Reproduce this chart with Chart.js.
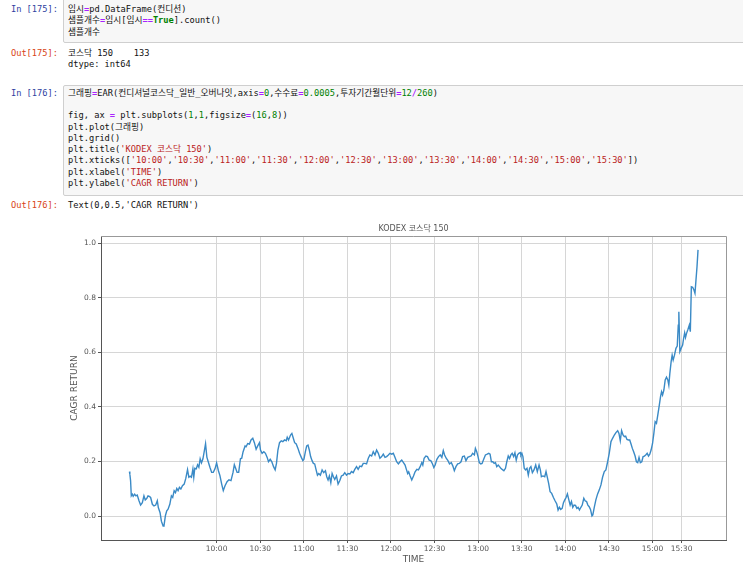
<!DOCTYPE html>
<html>
<head>
<meta charset="utf-8">
<script src="https://cdn.jsdelivr.net/npm/chart.js@4"></script>
<style>
  html, body { margin: 0; padding: 0; background: #fff; }
  body { width: 743px; height: 567px; position: relative; overflow: hidden; }
  .mono { font: 8.7px/11.3px "DejaVu Sans Mono", "Noto Sans CJK KR", monospace; white-space: pre; color: #111; }
  .prompt { position: absolute; left: 0; width: 58px; text-align: right; }
  .in { color: #303F9F; }
  .out { color: #D84315; }
  .box { position: absolute; left: 63px; width: 700px; background: #f7f7f7; border: 1px solid #cfcfcf; border-radius: 2px; }
  .txt { position: absolute; left: 68px; }
  .o { color: #AA22FF; font-weight: bold; }
  .n { color: #008000; }
  .kw { color: #008000; font-weight: bold; }
  .s { color: #BA2121; }
  #chart { position: absolute; left: 0; top: 212px; }
</style>
</head>
<body>
<div class="box" style="top:-3px;height:44px"></div>
<div class="mono prompt in" style="top:4px">In [175]:</div>
<div class="mono txt" style="top:4px">임시<span class="o">=</span>pd.DataFrame(컨디션)
샘플개수<span class="o">=</span>임시[임시<span class="o">==</span><span class="kw">True</span>].count()
샘플개수</div>

<div class="mono prompt out" style="top:47.6px">Out[175]:</div>
<div class="mono txt" style="top:47.6px">코스닥 150    133
dtype: int64</div>

<div class="box" style="top:85px;height:109px"></div>
<div class="mono prompt in" style="top:87.7px">In [176]:</div>
<div class="mono txt" style="top:87.7px">그래핑<span class="o">=</span>EAR(컨디셔널코스닥_일반_오버나잇,axis<span class="o">=</span><span class="n">0</span>,수수료<span class="o">=</span><span class="n">0.0005</span>,투자기간월단위<span class="o">=</span><span class="n">12</span><span class="o">/</span><span class="n">260</span>)

fig, ax <span class="o">=</span> plt.subplots(<span class="n">1</span>,<span class="n">1</span>,figsize<span class="o">=</span>(<span class="n">16</span>,<span class="n">8</span>))
plt.plot(그래핑)
plt.grid()
plt.title(<span class="s">'KODEX 코스닥 150'</span>)
plt.xticks([<span class="s">'10:00'</span>,<span class="s">'10:30'</span>,<span class="s">'11:00'</span>,<span class="s">'11:30'</span>,<span class="s">'12:00'</span>,<span class="s">'12:30'</span>,<span class="s">'13:00'</span>,<span class="s">'13:30'</span>,<span class="s">'14:00'</span>,<span class="s">'14:30'</span>,<span class="s">'15:00'</span>,<span class="s">'15:30'</span>])
plt.xlabel(<span class="s">'TIME'</span>)
plt.ylabel(<span class="s">'CAGR RETURN'</span>)</div>

<div class="mono prompt out" style="top:200.3px">Out[176]:</div>
<div class="mono txt" style="top:200.3px">Text(0,0.5,'CAGR RETURN')</div>

<canvas id="chart" width="743" height="355"></canvas>

<script>
// ---------- data (minutes since 09:00 / CAGR return) ----------
const minutes = [
  0, 0.3, 0.8, 1.3, 2.0, 2.6, 3.6, 4.5, 5.4, 6.6,
  7.7, 8.9, 10.0, 10.9, 11.9, 12.8, 13.7, 14.6, 15.8, 16.9,
  18.1, 19.2, 19.9, 21.1, 22.0, 23.2, 23.8, 24.8, 25.7, 26.6,
  27.8, 28.9, 29.8, 30.8, 31.7, 32.6, 33.5, 34.4, 35.4, 36.5,
  37.7, 38.8, 40.0, 40.9, 41.8, 42.7, 43.7, 44.3, 45.0, 46.0,
  46.9, 47.8, 48.7, 49.6, 50.6, 51.5, 52.4, 53.3, 54.3, 55.4,
  56.6, 57.7, 58.9, 60.0, 61.2, 62.3, 63.5, 64.6, 65.8, 67.2,
  68.5, 69.9, 71.3, 72.2, 73.1, 74.1, 75.2, 76.4, 77.3, 78.2,
  79.6,
  80.3, 81.4, 82.6, 83.7, 84.9, 86.0, 87.2, 88.3, 89.5, 90.2,
  91.3, 92.5, 93.6, 94.8, 95.7, 96.9, 98.0, 99.2, 100.3, 101.2,
  102.2, 103.3, 104.5, 105.6, 106.8, 107.9, 108.6, 109.5, 110.9, 111.8,
  112.8, 113.7, 114.8, 116.0, 117.1, 118.3, 119.4, 120.1, 121.1, 122.0,
  122.9, 123.8, 124.7, 125.7, 126.6, 127.5, 128.4, 129.4, 130.3, 131.4,
  132.6, 133.7, 134.9, 135.8, 136.7, 137.6, 138.6, 139.5, 140.4, 141.3,
  142.5, 143.6, 144.8, 145.9, 147.1, 148.2, 149.4, 150.5, 151.7, 152.8,
  154.0, 155.1, 156.3, 157.4, 158.6, 159.8, 160.9,
  162.1, 163.2, 164.4, 165.5, 166.7, 167.8, 169.0, 170.1, 171.3, 172.4,
  173.6, 174.7, 175.9, 177.0, 178.2, 179.3, 180.5, 181.6, 182.8, 183.9,
  185.1, 186.2, 187.4, 188.6, 189.7, 190.6, 191.5, 192.2, 193.2, 194.3,
  195.5, 196.6, 197.8, 198.9, 200.1, 201.2, 201.9, 202.8, 204.0, 205.1,
  206.3, 207.4, 208.6, 209.5, 210.4, 211.6, 212.7, 213.9, 215.0, 216.0,
  216.9, 218.0, 219.2, 220.3, 221.5, 222.6, 223.6, 224.7, 225.9, 227.0,
  228.2, 229.3, 230.5, 231.6, 232.8, 233.9, 235.1, 236.2, 237.4, 238.1,
  239.0, 239.9, 240.8, 241.8, 242.7, 243.8,
  245.0, 246.2, 247.3, 248.2, 249.1, 250.1, 251.0, 251.9, 252.8, 253.8,
  254.7, 255.6, 256.5, 257.7, 258.8, 259.7, 260.7, 261.6, 262.5, 263.4,
  264.4, 265.3, 266.2, 267.1, 268.0, 269.0, 269.4, 270.1, 270.8, 271.7,
  272.6, 273.6, 274.5, 275.4, 276.3, 277.3, 278.4, 279.6, 280.7, 281.9,
  282.8, 283.5, 284.6, 285.8, 286.7, 287.6, 288.5, 289.5, 290.6, 291.8,
  292.9, 294.1, 295.0, 295.9, 296.8, 297.8, 298.7, 299.6, 300.5, 301.4,
  302.4, 303.3, 304.2, 305.1, 306.0, 307.0, 307.9, 308.8, 309.7, 310.7,
  311.6, 312.7, 313.6, 314.6, 315.5, 316.4, 317.3, 318.3, 318.9, 319.9,
  321.0, 322.2, 323.3,
  324.5, 325.6, 326.8, 327.9, 329.1, 330.2, 331.4, 332.5, 333.7, 334.8,
  336.0, 336.9, 337.8, 338.7, 339.7, 340.6, 341.5, 342.4, 343.4, 344.3,
  345.2, 346.1, 347.0, 348.0, 348.9, 349.8, 350.7, 351.6, 352.6, 353.5,
  354.4, 355.3, 356.3, 357.2, 358.1, 359.0, 360.0, 360.9, 361.8, 362.7,
  363.6, 364.5, 365.5, 366.2, 366.9, 367.8, 368.7, 369.6, 370.5, 371.2,
  371.9, 372.8, 373.5, 374.2, 375.1, 376.1, 377.0, 377.7, 378.1, 378.8,
  379.7, 380.7, 381.4, 382.1, 382.7, 383.4, 384.4, 385.3, 386.0, 386.7,
  387.6, 388.5, 389.2, 389.9, 390.6, 391.3
];

const cagrReturn = [
  0.163, 0.154, 0.13, 0.074, 0.08, 0.072, 0.08, 0.074, 0.077, 0.056,
  0.04, 0.049, 0.074, 0.059, 0.064, 0.074, 0.072, 0.068, 0.043, 0.037,
  0.04, 0.056, 0.031, 0.012, -0.019, -0.037, -0.035, 0.002, 0.019, 0.025,
  0.043, 0.074, 0.068, 0.093, 0.086, 0.101, 0.093, 0.105, 0.099, 0.111,
  0.117, 0.138, 0.17, 0.142, 0.146, 0.142, 0.173, 0.142, 0.175, 0.173,
  0.188, 0.179, 0.21, 0.195, 0.21, 0.237, 0.265, 0.216, 0.198, 0.179,
  0.16, 0.16, 0.173, 0.195, 0.167, 0.148, 0.117, 0.093, 0.111, 0.126,
  0.133, 0.13, 0.16, 0.188, 0.175, 0.16, 0.16, 0.21, 0.212, 0.235,
  0.257,
  0.254, 0.266, 0.264, 0.279, 0.285, 0.269, 0.245, 0.257, 0.269, 0.242,
  0.23, 0.236, 0.23, 0.215, 0.199, 0.208, 0.199, 0.181, 0.169, 0.193,
  0.242, 0.269, 0.276, 0.273, 0.279, 0.276, 0.289, 0.279, 0.297, 0.303,
  0.285, 0.269, 0.264, 0.248, 0.23, 0.215, 0.203, 0.208, 0.236, 0.257,
  0.26, 0.242, 0.218, 0.203, 0.193, 0.191, 0.171, 0.15, 0.156, 0.15,
  0.169, 0.159, 0.166, 0.144, 0.132, 0.147, 0.122, 0.156, 0.144, 0.134,
  0.147, 0.117, 0.13, 0.147, 0.15, 0.159, 0.15, 0.156, 0.154, 0.163,
  0.159, 0.171, 0.181, 0.171, 0.183, 0.181, 0.193,
  0.193, 0.191, 0.212, 0.224, 0.22, 0.236, 0.224, 0.242, 0.23, 0.212,
  0.218, 0.227, 0.215, 0.218, 0.224, 0.23, 0.227, 0.23, 0.215, 0.199,
  0.191, 0.199, 0.205, 0.196, 0.187, 0.171, 0.156, 0.162, 0.147, 0.132,
  0.147, 0.162, 0.171, 0.169, 0.181, 0.196, 0.187, 0.212, 0.22, 0.218,
  0.205, 0.203, 0.191, 0.178, 0.187, 0.208, 0.218, 0.224, 0.215, 0.24,
  0.224, 0.212, 0.203, 0.191, 0.196, 0.183, 0.166, 0.181, 0.191, 0.193,
  0.199, 0.218, 0.22, 0.203, 0.215, 0.218, 0.22, 0.23, 0.224, 0.248,
  0.236, 0.218, 0.196, 0.191, 0.193, 0.208,
  0.224, 0.227, 0.23, 0.227, 0.199, 0.199, 0.193, 0.196, 0.181, 0.187,
  0.181, 0.175, 0.171, 0.166, 0.175, 0.199, 0.22, 0.211, 0.224, 0.23,
  0.218, 0.232, 0.205, 0.224, 0.23, 0.233, 0.224, 0.23, 0.218, 0.175,
  0.169, 0.175, 0.15, 0.175, 0.181, 0.159, 0.169, 0.187, 0.163, 0.187,
  0.169, 0.144, 0.147, 0.144, 0.163, 0.142, 0.12, 0.089, 0.083, 0.068,
  0.056, 0.044, 0.022, 0.032, 0.024, 0.028, 0.049, 0.059, 0.068, 0.081,
  0.059, 0.04, 0.053, 0.032, 0.04, 0.039, 0.028, 0.032, 0.022, 0.032,
  0.04, 0.065, 0.056, 0.053, 0.04, 0.034, 0.024, 0.0, 0.004, 0.032,
  0.059, 0.081, 0.095,
  0.114, 0.142, 0.163, 0.169, 0.199, 0.23, 0.273, 0.285, 0.297, 0.306,
  0.313, 0.303, 0.276, 0.313, 0.297, 0.291, 0.293, 0.281, 0.279, 0.279,
  0.264, 0.248, 0.236, 0.22, 0.199, 0.196, 0.215, 0.196, 0.199, 0.218,
  0.22, 0.224, 0.23, 0.22, 0.227, 0.242, 0.266, 0.303, 0.346, 0.34,
  0.37, 0.401, 0.438, 0.456, 0.444, 0.462, 0.499, 0.509, 0.499, 0.48,
  0.523, 0.566, 0.59, 0.572, 0.59, 0.615, 0.623, 0.7, 0.749, 0.603,
  0.615, 0.627, 0.652, 0.672, 0.655, 0.67, 0.685, 0.7, 0.676, 0.841,
  0.839, 0.829, 0.817, 0.866, 0.914, 0.976
];

// x ticks: positions (minute index) and their labels
const xTickPos = [60, 90, 120, 150, 180, 210, 240, 270, 300, 330, 360, 380];
const xTickLabels = ['10:00', '10:30', '11:00', '11:30', '12:00', '12:30',
  '13:00', '13:30', '14:00', '14:30', '15:00', '15:30'];
const yTicks = [0.0, 0.2, 0.4, 0.6, 0.8, 1.0];

// ---------- style ----------
const TEXT = '#555';
const GRID = '#d6d6d6';
const SPINE = '#555';
const tickFont = { family: '"DejaVu Sans", "Noto Sans CJK KR", sans-serif', size: 7.5 };
const labelFont = { family: '"DejaVu Sans", "Noto Sans CJK KR", sans-serif', size: 9 };

// top + right spines (lighter, like the mpl frame)
const frame = {
  id: 'frame',
  afterDraw(chart) {
    const { ctx, chartArea: a } = chart;
    ctx.save();
    ctx.strokeStyle = '#999';
    ctx.lineWidth = 1;
    ctx.beginPath();
    ctx.moveTo(a.left, a.top + 0.5);
    ctx.lineTo(a.right + 0.5, a.top + 0.5);
    ctx.lineTo(a.right + 0.5, a.bottom);
    ctx.stroke();
    ctx.restore();
  }
};

new Chart(document.getElementById('chart'), {
  type: 'line',
  data: {
    datasets: [{
      data: minutes.map((m, i) => ({ x: m, y: cagrReturn[i] })),
      borderColor: '#3a8ac6',
      borderWidth: 1.4,
      pointRadius: 0,
      tension: 0,
      fill: false
    }]
  },
  options: {
    responsive: false,
    animation: false,
    layout: { padding: { left: 0, right: 17, top: 0, bottom: 0 } },
    plugins: {
      legend: { display: false },
      tooltip: { enabled: false },
      title: {
        display: true,
        fullSize: false, // center over the plot area, not the canvas
        text: 'KODEX 코스닥 150',
        color: TEXT,
        font: { family: '"DejaVu Sans", "Noto Sans CJK KR", sans-serif', size: 8, weight: 'normal' },
        padding: { top: 12.5, bottom: 1.9 }
      }
    },
    scales: {
      x: {
        type: 'linear',
        min: -19.55,
        max: 410.55,
        afterBuildTicks: (s) => { s.ticks = xTickPos.map((v) => ({ value: v })); },
        afterFit: (s) => { s.height = 27; },
        ticks: {
          autoSkip: false,
          maxRotation: 0,
          padding: 2,
          color: TEXT,
          font: tickFont,
          callback: (v) => xTickLabels[xTickPos.indexOf(v)]
        },
        grid: { color: GRID, tickLength: 3, tickColor: SPINE },
        border: { color: SPINE, width: 1 },
        title: { display: true, text: 'TIME', color: TEXT, font: labelFont, padding: { top: 0, bottom: 1.5 } }
      },
      y: {
        min: -0.088,
        max: 1.027,
        afterBuildTicks: (s) => { s.ticks = yTicks.map((v) => ({ value: v })); },
        afterFit: (s) => { s.width = 101; },
        ticks: {
          padding: 2,
          color: TEXT,
          font: tickFont,
          callback: (v) => v.toFixed(1)
        },
        grid: { color: GRID, tickLength: 3, tickColor: SPINE },
        border: { color: SPINE, width: 1 },
        title: { display: true, text: 'CAGR RETURN', color: TEXT, font: labelFont, padding: { top: 69, bottom: 0 } }
      }
    }
  },
  plugins: [frame]
});
</script>
</body>
</html>
